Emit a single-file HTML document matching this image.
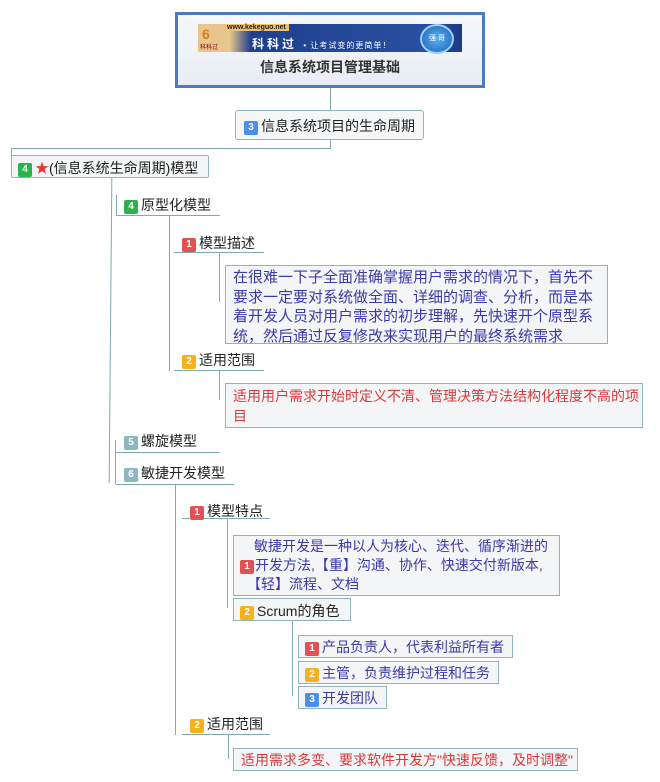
<!DOCTYPE html>
<html><head><meta charset="utf-8"><style>
body{margin:0;width:660px;height:782px;background:#fff;position:relative;overflow:hidden;font-family:"Liberation Sans","Noto Sans CJK SC",sans-serif;color:#222}
.a{position:absolute}
.b{display:inline-block;width:14px;height:14px;border-radius:2px;color:#fff;font-size:10px;line-height:14px;text-align:center;font-weight:bold;vertical-align:1px;margin-right:3px}
.g{background:#2bb24c}.r{background:#e25252}.o{background:#f5b21c}.bl{background:#4a8ff0}.t{background:#8bb8bf}
.box{position:absolute;border:1px solid #8fb5b8;background:#f3f5f6;box-sizing:border-box}
.lbl{position:absolute;font-size:14px;white-space:nowrap}
.ul{position:absolute;height:1px;background:#7fa9ad}
.v{position:absolute;width:1px;background:#7fa9ad}
.h{position:absolute;height:1px;background:#7fa9ad}
</style></head><body>
<div class="a" style="left:175px;top:12px;width:310px;height:76px;border:3px solid #4a7cc4;box-sizing:border-box;background:linear-gradient(#f6f8fb,#e8edf3)"></div>
<div class="a" style="left:198px;top:24px;width:264px;height:28px;background:linear-gradient(90deg,#e8c58b 0,#e8c58b 12%,#1e3f8f 20%,#2a4fa0 85%,#1c3b85 100%)"></div>
<div class="a" style="left:224px;top:24px;font-size:7px;color:#222;font-weight:bold;background:#f0c070;padding:0 3px">www.kekeguo.net</div>
<div class="a" style="left:202px;top:26px;font-size:14px;color:#e07a20;font-weight:bold">6</div>
<div class="a" style="left:200px;top:42px;font-size:6px;color:#903">科科过</div>
<div class="a" style="left:252px;top:35px;font-size:12px;color:#fff;font-weight:bold;letter-spacing:3px">科科过 <span style="font-size:8px;font-weight:normal;letter-spacing:1px">• 让考试变的更简单！</span></div>
<div class="a" style="left:420px;top:24px;width:30px;height:26px;border-radius:50%;background:radial-gradient(#5ab0ef,#1e62b8);border:2px solid #9cd0f5;color:#fff;font-size:7px;text-align:center;line-height:26px">强 哥</div>
<div class="a" style="left:175px;top:57px;width:310px;text-align:center;font-size:14px;font-weight:bold;color:#333">信息系统项目管理基础</div>
<div class="v" style="left:330px;top:88px;height:22px"></div>
<div class="box" style="left:235px;top:110px;width:189px;height:30px;border-radius:3px;background:#f4f6f7"></div>
<div class="lbl" style="left:244px;top:116px;font-size:14px"><span class="b bl">3</span>信息系统项目的生命周期</div>
<div class="h" style="left:11px;top:148px;width:320px"></div>
<div class="v" style="left:330px;top:140px;height:9px"></div>
<div class="v" style="left:11px;top:148px;height:8px"></div>
<div class="box" style="left:11px;top:155px;width:198px;height:23px;border-radius:2px"></div>
<div class="lbl" style="left:18px;top:158px"><span class="b g">4</span><span style="color:#e33">★</span>(信息系统生命周期)模型</div>
<div class="v" style="left:110px;top:178px;height:305px;transform:skewX(-0.5deg)"></div>
<div class="v" style="left:115px;top:440px;height:44px"></div>
<div class="ul" style="left:116px;top:215px;width:104px"></div>
<div class="lbl" style="left:124px;top:195px"><span class="b g">4</span>原型化模型</div>
<div class="v" style="left:116px;top:195px;height:20px"></div>
<div class="v" style="left:169px;top:215px;height:156px"></div>
<div class="ul" style="left:174px;top:252px;width:90px"></div>
<div class="lbl" style="left:182px;top:233px"><span class="b r">1</span>模型描述</div>
<div class="v" style="left:219px;top:252px;height:50px"></div>
<div class="box" style="left:225px;top:265px;width:383px;height:79px"></div>
<div class="a" style="left:233px;top:268px;width:372px;font-size:15px;line-height:19.5px;color:#3a3aa8">在很难一下子全面准确掌握用户需求的情况下，首先不要求一定要对系统做全面、详细的调查、分析，而是本着开发人员对用户需求的初步理解，先快速开个原型系统，然后通过反复修改来实现用户的最终系统需求</div>
<div class="ul" style="left:174px;top:370px;width:90px"></div>
<div class="lbl" style="left:182px;top:350px"><span class="b o">2</span>适用范围</div>
<div class="v" style="left:219px;top:370px;height:30px"></div>
<div class="box" style="left:225px;top:383px;width:418px;height:45px"></div>
<div class="a" style="left:233px;top:386px;width:407px;font-size:14px;line-height:20px;color:#d83a3a">适用用户需求开始时定义不清、管理决策方法结构化程度不高的项目</div>
<div class="ul" style="left:116px;top:452px;width:104px"></div>
<div class="lbl" style="left:124px;top:431px"><span class="b t">5</span>螺旋模型</div>
<div class="ul" style="left:116px;top:484px;width:118px"></div>
<div class="lbl" style="left:124px;top:463px"><span class="b t">6</span>敏捷开发模型</div>
<div class="v" style="left:175px;top:485px;height:250px"></div>
<div class="ul" style="left:182px;top:518px;width:88px"></div>
<div class="lbl" style="left:190px;top:501px"><span class="b r">1</span>模型特点</div>
<div class="v" style="left:227px;top:518px;height:90px"></div>
<div class="box" style="left:233px;top:535px;width:327px;height:61px"></div>
<div class="a" style="left:240px;top:537px;font-size:14px;line-height:19px;color:#3a3aa8;white-space:nowrap">　敏捷开发是一种以人为核心、迭代、循序渐进的<br><span class="b r" style="margin-right:1px">1</span>开发方法,【重】沟通、协作、快速交付新版本,<br>　【轻】流程、文档</div>
<div class="box" style="left:233px;top:598px;width:118px;height:23px"></div>
<div class="lbl" style="left:240px;top:601px"><span class="b o">2</span>Scrum的角色</div>
<div class="v" style="left:292px;top:621px;height:75px"></div>
<div class="box" style="left:298px;top:635px;width:215px;height:23px"></div>
<div class="lbl" style="left:305px;top:637px;color:#3a3aa8;font-size:14px"><span class="b r">1</span>产品负责人，代表利益所有者</div>
<div class="box" style="left:298px;top:661px;width:201px;height:23px"></div>
<div class="lbl" style="left:305px;top:663px;color:#3a3aa8;font-size:14px"><span class="b o">2</span>主管，负责维护过程和任务</div>
<div class="box" style="left:298px;top:686px;width:89px;height:23px"></div>
<div class="lbl" style="left:305px;top:688px;color:#3a3aa8;font-size:14px"><span class="b bl">3</span>开发团队</div>
<div class="ul" style="left:182px;top:734px;width:88px"></div>
<div class="lbl" style="left:190px;top:714px"><span class="b o">2</span>适用范围</div>
<div class="v" style="left:228px;top:735px;height:24px"></div>
<div class="box" style="left:233px;top:748px;width:345px;height:23px"></div>
<div class="lbl" style="left:241px;top:750px;color:#d83a3a;font-size:14px">适用需求多变、要求软件开发方"快速反馈，及时调整"</div>
</body></html>
